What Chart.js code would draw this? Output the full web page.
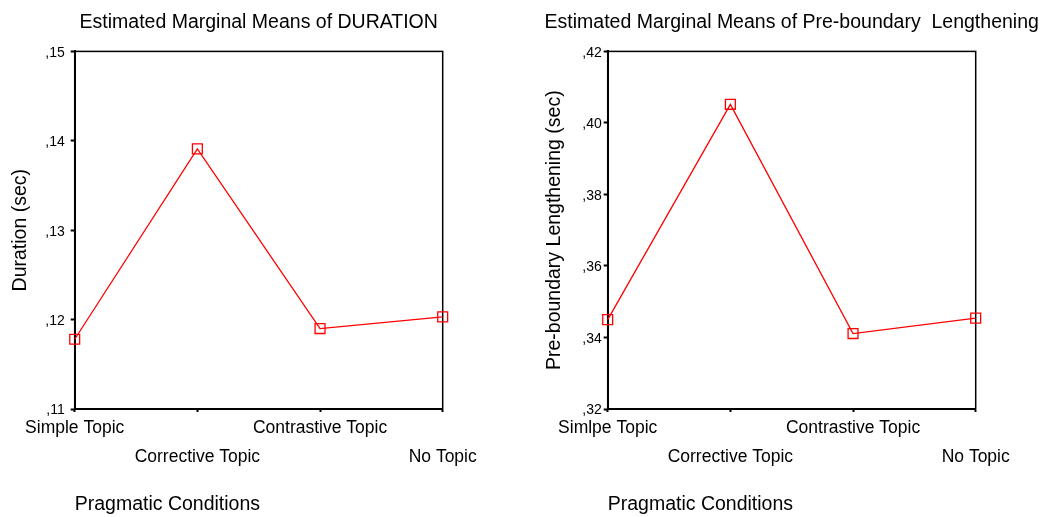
<!DOCTYPE html>
<html>
<head>
<meta charset="utf-8">
<script src="https://cdn.jsdelivr.net/npm/chart.js@4.4.1/dist/chart.umd.min.js"></script>
<style>
html, body { margin: 0; padding: 0; background: #fff; overflow: hidden; }
canvas { position: absolute; top: 0; }
#left { left: 0; }
#right { left: 530px; }
</style>
</head>
<body>
<canvas id="left" width="523" height="517"></canvas>
<canvas id="right" width="523" height="517"></canvas>
<script>
// values
var durationCategories = ["Simple Topic", "Corrective Topic", "Contrastive Topic", "No Topic"];
var lengtheningCategories = ["Simlpe Topic", "Corrective Topic", "Contrastive Topic", "No Topic"];
var durationMeans = [0.1178, 0.1391, 0.1190, 0.1203];
var lengtheningMeans = [0.3450, 0.4052, 0.3411, 0.3454];
var durationTicks = [0.11, 0.12, 0.13, 0.14, 0.15];
var lengtheningTicks = [0.32, 0.34, 0.36, 0.38, 0.40, 0.42];

Chart.defaults.color = "#000";
Chart.defaults.font.family = "'Liberation Sans', Arial, sans-serif";

var frame = {
  id: "frame",
  afterLayout: function(chart) {
    // let the title run wider than the plot, still centred on it (SPSS style)
    var a = chart.chartArea, t = chart.titleBlock;
    var mid = (a.left + a.right) / 2;
    t.left = mid - 320;
    t.right = mid + 320;
    t.width = 640;
  },
  beforeDatasetsDraw: function(chart) {
    var a = chart.chartArea, ctx = chart.ctx;
    ctx.save();
    ctx.strokeStyle = "#000";
    ctx.lineWidth = 1.5;
    ctx.strokeRect(a.left, a.top, a.right - a.left, a.bottom - a.top);
    ctx.restore();
  }
};

function stagger(cats) {
  var out = [];
  for (var i in cats) {
    out.push(i % 2 == 0 ? [cats[i], ""] : ["", cats[i]]);
  }
  return out;
}

function makeChart(id, cats, values, ticks, title, yTitle, yWidth, yTitlePad, yTickPad) {
  return new Chart(document.getElementById(id), {
    type: "line",
    data: {
      labels: stagger(cats),
      datasets: [{
        data: values,
        borderColor: "#ff0000",
        borderWidth: 1.3,
        backgroundColor: "#fff",
        pointStyle: "rect",
        pointRadius: 7,
        pointBorderWidth: 1.3,
        pointBorderColor: "#ff0000",
        pointBackgroundColor: "rgba(255,255,255,0)",
        tension: 0,
        clip: false
      }]
    },
    options: {
      responsive: false,
      animation: false,
      layout: { padding: { left: 0, right: 523 - yWidth - 368, top: 0, bottom: 0 } },
      plugins: {
        legend: { display: false },
        tooltip: { enabled: false },
        title: {
          display: true,
          text: title,
          fullSize: false,
          font: { size: 19.5, weight: "normal" },
          padding: { top: 11, bottom: 17 }
        }
      },
      scales: {
        x: {
          offset: false,
          grid: { drawOnChartArea: false, drawTicks: true, tickLength: 3, tickWidth: 2, tickColor: "#000" },
          border: { display: true, color: "#000", width: 2 },
          ticks: { autoSkip: false, maxRotation: 0, padding: 1.5, font: { size: 17.5, lineHeight: "29px" } },
          title: { display: true, text: "Pragmatic Conditions", align: "start", font: { size: 19.5 }, padding: { top: 0, bottom: 1 } },
          afterFit: function(s) { s.height = 108; }
        },
        y: {
          min: ticks[0],
          max: ticks[ticks.length - 1],
          grid: { drawOnChartArea: false, drawTicks: true, tickLength: 4, tickWidth: 2, tickColor: "#000" },
          border: { display: true, color: "#000", width: 2 },
          ticks: {
            stepSize: ticks[1] - ticks[0],
            padding: yTickPad,
            labelOffset: 1.5,
            font: { size: 14 },
            callback: function(v) { return v.toFixed(2).replace("0.", ","); }
          },
          title: { display: true, text: yTitle, font: { size: 19.5 }, padding: { top: yTitlePad, bottom: 0 } },
          afterFit: function(s) { s.width = yWidth; }
        }
      }
    },
    plugins: [frame]
  });
}

makeChart("left", durationCategories, durationMeans, durationTicks,
  "Estimated Marginal Means of DURATION", "Duration (sec)", 74.7, 8.5, 6);
makeChart("right", lengtheningCategories, lengtheningMeans, lengtheningTicks,
  "Estimated Marginal Means of Pre-boundary  Lengthening", "Pre-boundary Lengthening (sec)", 77.7, 13, 2);
</script>
</body>
</html>
